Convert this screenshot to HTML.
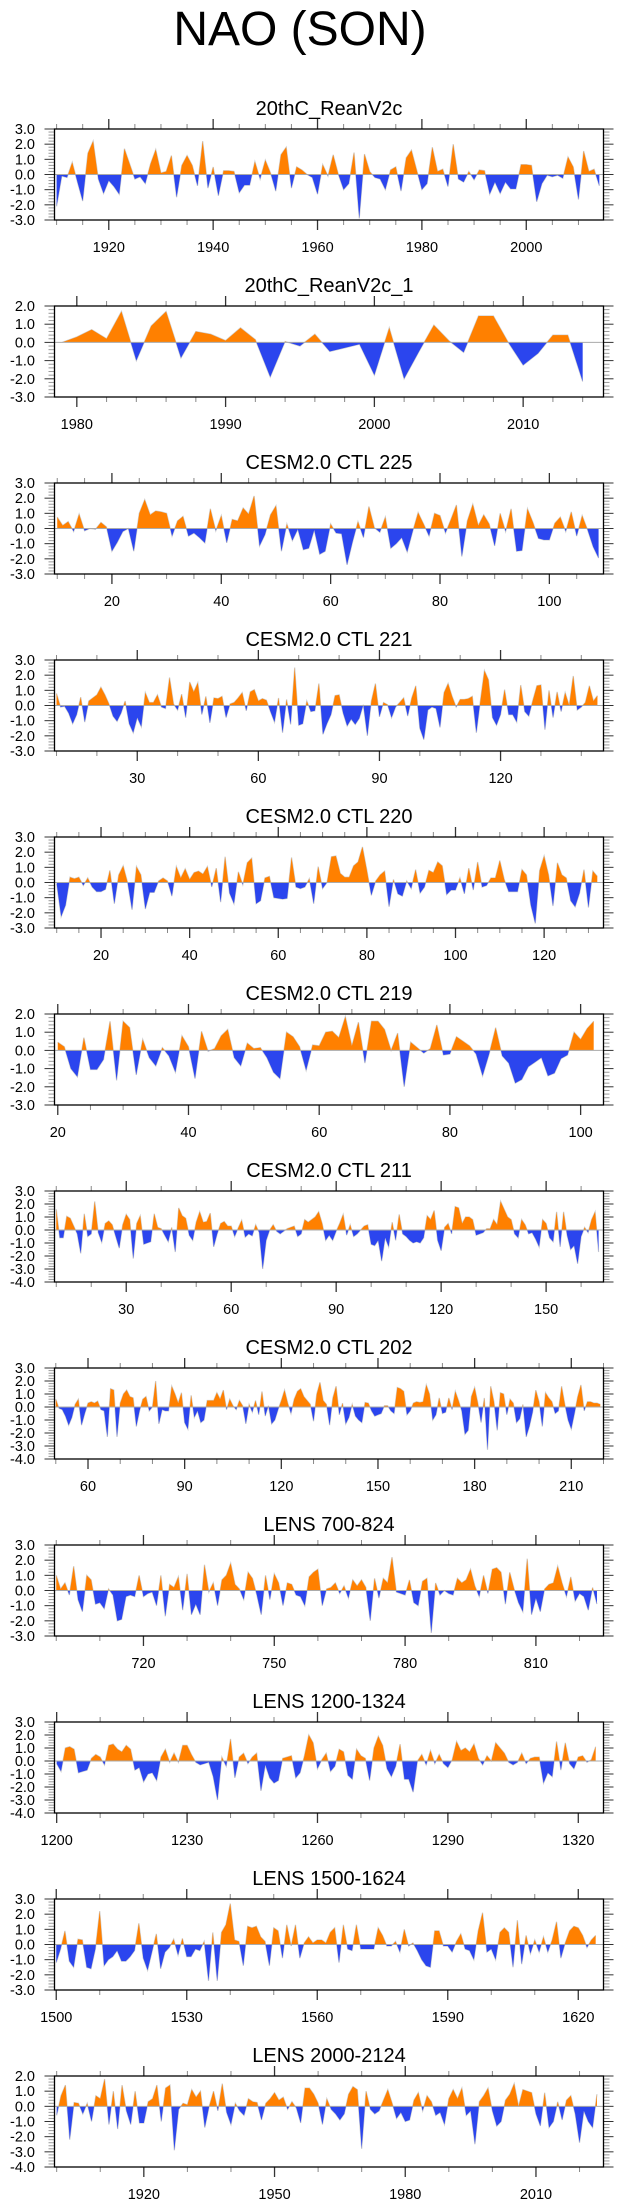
<!DOCTYPE html>
<html>
<head>
<meta charset="utf-8">
<style>
  html,body{margin:0;padding:0;background:#fff;}
  svg{display:block;font-family:"Liberation Sans",Arial,sans-serif;}
</style>
</head>
<body>
<svg id="chart" xmlns="http://www.w3.org/2000/svg" width="623" height="2209" viewBox="0 0 623 2209">
  <rect x="0" y="0" width="623" height="2209" fill="#fff"/>
  <text x="300" y="45" font-size="48" text-anchor="middle" fill="#000">NAO (SON)</text>
</svg>
<script>
const panelTitles = ["20thC_ReanV2c","20thC_ReanV2c_1","CESM2.0 CTL 225","CESM2.0 CTL 221","CESM2.0 CTL 220","CESM2.0 CTL 219","CESM2.0 CTL 211","CESM2.0 CTL 202","LENS 700-824","LENS 1200-1324","LENS 1500-1624","LENS 2000-2124"];
const panelStarts = [1910,1979,10,10,10,20,10,50,700,1200,1500,1900];
const xMins = [1909.6,1978.5,9.5,9.5,9.5,19.5,9.5,49.6,699.6,1199.5,1499.6,1899.5];
const xMaxs = [2014.8,2015.4,109.9,145.5,133.4,103.5,166.4,220,825.5,1325.8,1625.8,2025.5];
const yMins = [-3,-3,-3,-3,-3,-3,-4,-4,-3,-4,-3,-4];
const yMaxs = [3,2,3,3,3,2,3,3,3,3,3,2];
const xMajorTicks = [
  [1920,1940,1960,1980,2000],
  [1980,1990,2000,2010],
  [20,40,60,80,100],
  [30,60,90,120],
  [20,40,60,80,100,120],
  [20,40,60,80,100],
  [30,60,90,120,150],
  [60,90,120,150,180,210],
  [720,750,780,810],
  [1200,1230,1260,1290,1320],
  [1500,1530,1560,1590,1620],
  [1920,1950,1980,2010]
];
const xMinorSteps = [5,2,5,10,5,5,10,10,10,10,10,10];

const p1Values = [-2.1,-0.1,-0.2,0.8,-0.5,-1.75,1.4,2.2,-0.3,-1.25,-0.4,-0.8,-1.3,1.7,0.7,-0.3,-0.15,-0.6,0.7,1.65,0.1,0.2,1.25,-1.5,0.6,1.25,0.6,-0.75,2.2,-0.9,0.5,-1.4,0.25,0.25,0.2,-1.2,-0.7,-0.7,0.85,-0.3,0.95,0.1,-1.1,1.3,1.8,-0.9,0.5,0.3,0.0,-0.2,-1.3,0.65,-0.1,1.3,0.0,-1.0,-0.6,1.45,-2.9,1.35,0.2,-0.2,-0.3,-1.0,0.3,0.5,-1.1,1.1,1.6,0.3,-1.0,-0.6,1.8,0.2,0.35,-0.8,2.0,-0.3,-0.5,0.2,-0.35,0.3,0.25,-1.3,-0.5,-1.25,-0.5,-0.95,-0.95,0.65,0.65,0.6,-1.8,-0.6,-0.05,-0.15,-0.05,-0.25,1.15,0.5,-1.65,1.55,0.2,0.35,-0.75];
const p2Values = [0.0,0.3,0.7,0.2,1.7,-1.0,0.9,1.7,-0.85,0.6,0.45,0.1,0.8,0.15,-1.9,0.05,-0.2,0.45,-0.5,-0.3,-0.1,-1.8,0.8,-2.0,-0.5,0.95,0.1,-0.55,1.45,1.45,0.0,-1.25,-0.6,0.4,0.4,-2.15];
const p3Values = [0.75,0.2,0.45,-0.2,0.95,-0.15,0.0,-0.05,0.4,0.1,-1.5,-0.9,-0.2,0.0,-1.5,1.0,1.9,0.9,1.15,1.1,1.0,-0.5,0.5,0.8,-0.5,-0.3,-0.6,-0.95,1.3,-0.15,0.85,-0.95,0.6,0.5,1.35,0.95,2.15,-1.15,-0.4,0.9,1.5,-1.5,0.3,-0.8,-0.05,-1.4,-1.3,-0.1,-1.7,-1.5,0.3,-0.3,-0.35,-2.4,-0.9,0.45,-0.6,1.45,0.05,-0.25,0.75,-1.3,-1.0,-0.6,-1.55,-0.2,1.05,0.3,-0.5,1.0,0.85,-0.3,0.6,1.55,-1.85,0.5,1.6,0.2,0.9,0.3,-1.15,1.0,-0.2,1.3,-1.5,-1.45,1.3,0.4,-0.65,-0.75,-0.75,0.35,0.75,-0.2,1.1,-0.5,0.85,-0.1,-1.2,-1.95];
const p4Values = [0.8,-0.1,-0.05,-0.5,-1.2,-0.6,0.55,-1.1,0.3,0.5,0.7,1.2,0.7,0.1,-0.7,-1.05,-0.5,0.3,-1.2,-1.8,-0.8,-1.4,0.85,0.2,0.2,0.7,-0.1,-0.2,1.85,0.1,-0.3,0.75,-0.8,1.55,0.9,1.5,-0.6,0.6,-1.15,0.5,0.45,0.6,-0.8,0.1,0.2,0.5,0.85,-0.35,0.9,1.05,0.3,0.45,0.35,-0.4,-1.1,0.5,-1.8,0.4,-1.25,2.5,-1.3,-1.2,0.3,-0.4,-0.35,1.45,-1.9,-1.2,-0.6,0.65,0.7,-0.5,-1.35,-0.9,-1.25,-0.85,0.05,-2.0,0.3,1.45,-0.75,0.2,0.05,-0.8,-0.1,0.2,0.5,-0.7,0.5,1.3,-1.5,-2.25,-0.3,-0.1,-0.2,-1.45,0.85,1.45,0.6,-0.1,0.4,0.4,0.45,0.6,-1.8,0.3,2.3,1.7,-0.8,-1.3,-0.6,1.05,-0.6,-0.6,-1.1,1.35,-0.4,-0.7,0.35,1.3,1.35,-1.6,1.0,-0.8,0.9,-0.4,0.85,0.0,1.95,-0.3,-0.1,0.2,1.3,0.3,0.65];
const p5Values = [-0.1,-2.25,-1.5,0.35,0.25,0.35,-0.2,0.3,-0.3,-0.6,-0.6,-0.45,0.8,-1.4,0.5,1.1,0.0,-1.8,1.05,0.5,-1.75,-0.65,-0.65,0.1,0.3,0.1,-0.9,1.05,0.3,0.9,0.2,0.65,0.75,0.55,1.05,-0.3,0.95,-1.3,1.7,-0.7,-1.4,0.7,-0.15,1.3,1.6,-1.4,-1.2,0.3,0.4,-1.0,-1.05,-1.1,-1.05,1.65,-0.3,-0.4,-0.3,0.25,-1.4,1.05,-0.4,0.0,1.7,1.75,0.6,0.35,0.35,1.1,1.35,2.35,0.8,-0.85,0.1,0.5,0.75,-1.6,0.2,-0.75,-0.9,0.1,-0.4,0.85,-0.7,-0.3,0.8,0.65,1.35,1.1,-0.8,-0.5,-0.5,0.3,-0.75,0.95,-0.5,1.35,-0.3,-0.2,0.3,0.3,1.45,0.2,-0.6,-0.6,-0.6,0.85,0.5,-1.5,-2.7,0.8,1.75,0.5,-1.55,1.3,0.5,0.3,-1.2,-1.6,-0.7,0.85,-1.65,0.75,0.4];
const p6Values = [0.45,0.2,-1.0,-1.45,0.7,-1.05,-1.05,-0.5,1.6,-1.65,1.6,1.25,-1.35,0.6,-0.4,-0.85,0.15,-0.3,-1.2,0.8,0.2,-1.55,1.05,-0.05,0.1,0.8,1.15,-0.4,-0.85,0.4,0.1,0.15,-0.4,-1.2,-1.55,1.0,0.75,0.2,-1.1,0.3,0.25,1.0,1.05,0.7,1.85,0.25,1.55,-0.7,1.6,1.6,1.15,0.0,0.95,-2.0,0.45,0.15,-0.15,0.1,1.4,-0.25,-0.2,0.75,0.5,0.25,-0.2,-1.4,-0.2,1.25,-0.3,-0.7,-1.8,-1.6,-0.9,-0.65,-0.4,-1.4,-1.25,-0.45,-0.25,1.0,0.6,1.2,1.6];
const p7Values = [1.6,-0.6,-0.6,1.05,0.9,0.3,-0.3,-1.8,1.25,-0.5,-0.3,2.2,-0.2,-0.95,0.5,0.7,0.4,-0.5,-1.4,0.4,1.2,0.8,-2.2,0.5,1.1,-1.1,-1.0,-0.9,1.25,0.2,0.1,-0.4,-0.9,0.2,-1.7,1.7,1.1,0.9,-0.4,-0.8,0.6,1.4,0.6,0.65,1.3,-1.3,-0.3,0.5,0.65,0.3,0.3,-0.5,0.15,0.75,-0.55,-0.3,-0.45,0.4,-0.2,-3.0,-0.8,0.0,0.4,-0.1,-0.3,-0.1,0.1,0.2,0.3,-0.5,-0.3,0.8,0.6,0.8,1.0,1.4,0.5,-0.8,-0.4,-0.8,-0.1,0.5,1.2,-0.4,0.4,-0.5,-0.3,0.0,0.3,0.4,-1.1,-1.2,-0.8,-2.4,-0.6,-1.3,0.6,-0.8,1.2,-0.3,-0.5,-0.8,-1.0,-0.9,-1.0,-0.6,1.1,0.8,1.5,-0.8,-1.6,0.2,0.5,-0.3,1.8,1.7,0.5,1.0,1.0,0.8,-0.4,-0.3,-0.2,0.1,0.1,0.8,0.4,2.2,1.6,1.0,0.8,-0.3,-0.6,0.8,0.4,-0.3,-0.2,-0.7,-1.3,0.8,0.5,-0.6,-0.9,1.4,-1.3,1.4,-0.4,-1.5,-1.2,-2.6,-0.5,0.2,-0.2,0.8,1.4,-1.7];
const p8Values = [0.6,-0.1,-0.2,-0.7,-1.4,-0.8,0.2,0.6,-1.4,-0.5,0.3,0.4,0.3,0.45,-0.2,-0.3,-2.3,1.4,1.3,-2.3,0.3,1.0,1.3,0.8,0.7,-1.5,-0.3,0.6,0.8,-0.3,0.0,2.0,-1.3,-0.2,-0.3,-0.3,1.6,1.0,0.3,1.1,-1.2,-1.7,0.9,-0.8,-0.3,-1.2,-1.0,0.5,0.5,0.5,1.1,0.6,1.3,-0.2,0.6,0.1,-0.2,0.5,0.1,-1.3,0.2,-0.4,0.5,-0.6,1.2,-0.7,0.1,-1.3,-1.0,-0.2,0.5,1.3,0.3,-0.5,0.6,1.2,1.4,0.8,0.5,0.2,-1.1,1.0,1.9,0.5,0.2,-1.4,0.7,1.6,-0.6,0.3,-1.3,-0.8,0.2,-0.7,-1.0,-1.2,0.35,0.3,-0.3,-0.7,-0.6,-0.5,0.1,0.1,-0.3,-0.5,1.5,1.4,1.2,-0.6,-0.3,0.3,0.4,0.35,0.4,1.7,1.0,-1.0,-0.6,0.7,-0.5,-0.4,0.7,-0.2,1.2,0.5,-0.3,-2.1,-1.8,0.8,1.5,0.3,-1.2,0.7,-3.3,1.6,0.4,-1.8,1.1,1.0,-0.6,0.6,0.3,-1.2,-0.9,0.2,-2.3,-1.5,-0.4,1.3,0.4,-1.5,1.1,0.7,0.4,-0.5,-0.3,1.6,0.2,-1.0,-1.7,-0.5,0.8,1.7,-0.3,0.4,0.4,0.3,0.3,0.2];
const p9Values = [1.0,0.1,0.5,-0.3,1.6,-0.6,-1.4,1.0,0.7,-0.9,-0.8,-1.2,0.1,-0.3,-2.0,-1.9,-0.4,-0.3,-0.4,1.0,-0.4,-0.2,-0.1,-1.0,1.0,-1.7,0.4,0.2,0.9,-1.3,1.1,-1.6,-0.9,-1.6,1.7,-0.1,0.5,-1.0,0.7,1.0,1.8,0.4,0.1,-0.6,1.2,0.8,-0.3,-1.6,1.0,-0.6,1.1,0.5,-1.0,0.5,0.4,-0.3,-0.4,-1.0,0.9,1.2,1.4,-1.0,0.1,0.2,0.5,-0.2,0.3,-0.5,0.7,0.3,0.7,0.2,-2.0,0.8,-0.5,0.8,0.5,2.2,-0.1,-0.2,-0.3,0.7,-0.8,-1.0,0.6,0.8,-2.8,0.5,-0.3,0.0,-0.2,-0.3,0.8,0.5,0.7,1.4,0.3,-0.4,1.0,-0.2,1.4,1.5,1.2,-0.9,1.2,0.1,-0.8,-1.4,2.1,-1.6,-0.5,-1.4,0.1,0.4,0.5,1.6,0.5,-0.4,0.9,-0.7,-0.2,-0.4,-1.3,0.2,-0.9];
const p10Values = [-0.2,-0.8,1.0,1.1,0.9,-0.9,-0.8,-0.7,0.2,0.5,0.3,-0.3,1.2,1.3,0.9,0.7,1.2,0.9,-0.7,-0.5,-1.6,-1.0,-0.9,-1.5,0.3,0.9,-0.1,0.6,-0.1,1.2,1.2,0.5,-0.1,-0.3,-0.2,-0.1,-1.2,-3.0,0.3,-0.4,1.7,-1.3,0.3,0.6,-0.2,0.3,0.6,-2.3,-0.3,-1.3,-1.7,-1.5,0.2,0.3,0.4,-1.3,-0.9,0.4,2.0,1.4,-0.6,0.1,0.6,-0.8,-0.4,0.9,0.7,-1.1,-1.4,0.9,0.4,0.2,-1.5,1.0,1.9,1.2,-0.6,-1.2,-0.4,1.3,-1.4,-1.4,-2.4,0.0,0.5,-0.3,0.8,-0.2,0.5,-0.2,-0.5,0.1,1.5,0.8,1.0,0.7,1.3,0.2,-0.3,0.4,0.0,1.4,1.0,0.6,-0.1,-0.3,-0.1,0.6,-0.2,0.2,0.3,0.3,-1.7,-0.9,-1.2,1.5,-0.7,1.4,-0.2,-0.6,0.3,0.4,-0.1,0.1,1.1];
const p11Values = [-1.2,-0.3,0.9,-1.1,-1.5,0.35,0.3,-1.5,-1.6,-0.3,2.2,-1.4,-1.0,-0.8,-0.4,-1.1,-1.1,-0.8,-0.4,1.4,-0.9,-1.7,-0.5,0.7,-1.6,-0.5,-0.2,0.35,-0.7,0.4,-0.8,-0.8,-0.3,-0.4,0.2,-2.4,0.8,-2.4,0.8,1.3,2.7,0.3,0.2,-1.4,1.2,1.1,1.2,0.5,0.2,-1.4,1.1,0.9,-0.9,1.3,-0.1,1.3,-0.9,0.1,0.5,0.1,0.3,0.3,0.1,0.8,1.1,-1.2,1.3,-0.3,-0.4,1.3,-0.3,-0.3,-0.3,-0.3,1.1,0.6,-0.1,-0.1,0.2,-0.5,1.0,-0.1,0.1,-0.4,-1.0,-1.4,-1.5,0.9,0.9,-0.1,-0.1,-0.5,0.2,0.7,-0.3,-0.4,-1.0,0.9,2.1,-0.5,-0.3,-1.0,0.8,1.1,0.8,-1.5,1.6,-1.3,0.6,-0.6,0.3,-0.5,0.5,-0.5,0.3,1.5,-0.9,0.1,0.9,1.2,1.1,0.6,-0.2,0.3,0.6];
const p12Values = [-0.6,0.7,1.4,-2.2,0.25,0.2,-0.5,0.2,-1.0,0.7,0.5,1.8,-1.2,1.0,-1.5,1.4,-0.3,-1.2,1.0,-1.1,-1.1,0.3,0.5,1.4,-1.0,1.2,1.4,-2.9,-0.2,0.2,0.1,1.1,0.6,1.0,-1.4,0.0,1.0,-0.3,1.5,-0.4,-1.2,0.2,-0.3,-0.6,0.5,0.3,0.25,-0.9,0.2,0.5,0.9,0.4,0.6,-0.2,0.3,-0.1,-1.1,1.2,1.2,0.8,0.2,-1.2,0.5,-0.2,-0.5,-0.9,-0.5,0.8,1.3,1.1,-2.8,1.0,-0.2,-0.5,-0.3,0.4,1.1,0.2,-0.8,-0.4,-1.0,-0.9,0.4,0.9,-0.3,0.7,0.3,-0.6,-0.4,-1.2,0.5,1.1,0.5,1.2,-0.6,-0.3,-2.5,0.3,0.7,1.2,-0.3,-1.3,-1.0,0.4,0.8,1.5,0.0,1.1,1.0,0.9,-0.5,-1.3,0.9,-1.4,-1.0,0.3,-0.9,0.4,0.7,-0.5,-2.4,-0.3,-1.0,-1.4,0.8];
const panelValues = [p1Values,p2Values,p3Values,p4Values,p5Values,p6Values,p7Values,p8Values,p9Values,p10Values,p11Values,p12Values];

const NS = "http://www.w3.org/2000/svg";
const svg = document.getElementById("chart");
const PL = 54.5, PR = 603.5, PH = 91, TOP0 = 129, PITCH = 177;

function mk(tag, attrs, parent) {
  const e = document.createElementNS(NS, tag);
  for (const k in attrs) e.setAttribute(k, attrs[k]);
  parent.appendChild(e);
  return e;
}
function fmt(v) { return v.toFixed(1); }

for (let i = 0; i < panelTitles.length; i++) {
  const T = TOP0 + PITCH * i, B = T + PH;
  const xmin = xMins[i], xmax = xMaxs[i], ymin = yMins[i], ymax = yMaxs[i];
  const xs = v => PL + (v - xmin) / (xmax - xmin) * (PR - PL);
  const ys = v => B - (v - ymin) / (ymax - ymin) * PH;
  const g = mk("g", {}, svg);
  
  

  const title = mk("text", {x: (PL + PR) / 2, y: T - 14, "font-size": 20, "text-anchor": "middle", fill: "#000"}, g);
  title.textContent = panelTitles[i];
  
  

  // series points with zero crossings
  const vals = panelValues[i], st = panelStarts[i];
  const pts = [];
  for (let k = 0; k < vals.length; k++) {
    const x = st + k, v = vals[k];
    if (k > 0) {
      const pv = vals[k - 1];
      if ((pv > 0 && v < 0) || (pv < 0 && v > 0)) {
        const t = pv / (pv - v);
        pts.push([x - 1 + t, 0]);
      }
    }
    pts.push([x, v]);
  }
  const x0 = st, x1 = st + vals.length - 1;
  let pos = "M" + xs(x0) + "," + ys(0);
  let neg = "M" + xs(x0) + "," + ys(0);
  let line = "";
  pts.forEach((p, j) => {
    pos += " L" + xs(p[0]).toFixed(2) + "," + ys(Math.max(p[1], 0)).toFixed(2);
    neg += " L" + xs(p[0]).toFixed(2) + "," + ys(Math.min(p[1], 0)).toFixed(2);
    line += (j ? " L" : "M") + xs(p[0]).toFixed(2) + "," + ys(p[1]).toFixed(2);
  });
  pos += " L" + xs(x1) + "," + ys(0) + " Z";
  neg += " L" + xs(x1) + "," + ys(0) + " Z";
  const ln = mk("path", {d: line, fill: "none", stroke: "#cfcfcf", "stroke-width": 1.2}, g);
  
  
  const pf = mk("path", {d: pos, fill: "#ff8000"}, g);
  
  
  const nf = mk("path", {d: neg, fill: "#2b45ee"}, g);
  
  
  const zl = mk("line", {x1: PL, x2: PR, y1: ys(0), y2: ys(0), stroke: "#aaaaaa", "stroke-width": 1}, g);
  
  

  // y ticks
  for (let yv = ymin; yv <= ymax + 1e-6; yv += 0.2) {
    const yy = ys(yv);
    const major = Math.abs(yv - Math.round(yv)) < 1e-6;
    const len = major ? 10 : 6, col = major ? "#333" : "#9a9a9a";
    mk("line", {x1: PL - len, x2: PL, y1: yy, y2: yy, stroke: col, "stroke-width": 1}, g);
    mk("line", {x1: PR, x2: PR + len, y1: yy, y2: yy, stroke: col, "stroke-width": 1}, g);
  }
  for (let yv = ymin; yv <= ymax; yv++) {
    const t = mk("text", {x: 35, y: ys(yv) + 5, "font-size": 14.5, "text-anchor": "end", fill: "#000"}, g);
    t.textContent = fmt(yv);
    
    
  }
  // x ticks
  const step = xMinorSteps[i];
  for (let xv = Math.ceil(xmin / step) * step; xv <= xmax; xv += step) {
    const xx = xs(xv);
    const major = xMajorTicks[i].indexOf(xv) >= 0;
    const len = major ? 10 : 5, col = major ? "#333" : "#888";
    mk("line", {x1: xx, x2: xx, y1: B, y2: B + len, stroke: col, "stroke-width": major ? 1.3 : 1}, g);
    mk("line", {x1: xx, x2: xx, y1: T - len, y2: T, stroke: col, "stroke-width": major ? 1.3 : 1}, g);
  }
  xMajorTicks[i].forEach(xv => {
    const t = mk("text", {x: xs(xv), y: B + 32, "font-size": 14.5, "text-anchor": "middle", fill: "#000"}, g);
    t.textContent = String(xv);
    
    
  });
  const fr = mk("rect", {x: PL, y: T, width: PR - PL, height: PH, fill: "none", stroke: "#000", "stroke-width": 1.3}, g);
  
  
}
</script>
</body>
</html>
